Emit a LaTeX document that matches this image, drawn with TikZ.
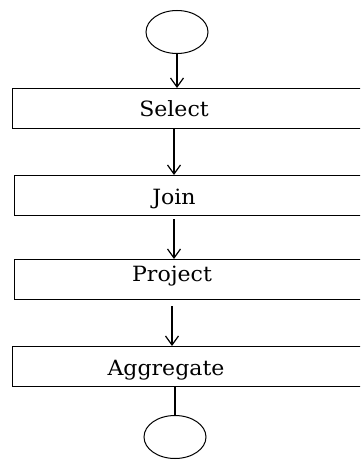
\documentclass[tikz,border=0pt]{standalone}
\usepackage{fontspec}
\setmainfont{DejaVu Serif}
\usetikzlibrary{shapes.geometric,arrows.meta}
\begin{document}
\begin{tikzpicture}[x=1pt,y=-1pt,
  box/.style={draw, line width=1.4pt, rectangle, minimum width=360pt, minimum height=40pt, anchor=north west, inner sep=0pt},
  term/.style={draw, line width=1pt, ellipse, minimum width=62pt, minimum height=43pt, inner sep=0pt},
  lbl/.style={anchor=base, inner sep=0pt, font=\fontsize{21}{25}\selectfont},
  arr/.style={line width=1.2pt, -{Straight Barb[length=9pt,width=13pt]}},
  conn/.style={line width=1.2pt}]
\useasboundingbox (0,0) rectangle (360,460);
\clip (0,0) rectangle (360,460);
\fill[white] (0,0) rectangle (360,460);
\node[term] (start) at (177,32) {};
\node[box] (select) at (12,88) {};
\node[box] (join) at (14,175) {};
\node[box] (project) at (14,259) {};
\node[box] (aggregate) at (12,346) {};
\node[term] (stop) at (175,437) {};
\node[lbl] (selt) at (174,116.7) {\scalebox{1.05}[1]{Select}};
\node[lbl] (joint) at (174,204) {\scalebox{1.05}[1]{Join}};
\node[lbl] (projt) at (172,281.7) {\scalebox{1.05}[1]{Project}};
\node[lbl] (aggt) at (166,375) {\scalebox{1.05}[1]{Aggregate}};
\draw[arr] (start.south) -- (start.south |- select.north);
\draw[arr] (select.south -| selt) -- (selt |- join.north);
\draw[arr, shorten <=3pt] (join.south -| joint) -- (joint |- project.north);
\draw[arr, shorten <=6pt] (project.south -| projt) -- (projt |- aggregate.north);
\draw[conn] (aggregate.south -| stop.north) -- (stop.north);
\end{tikzpicture}
\end{document}
